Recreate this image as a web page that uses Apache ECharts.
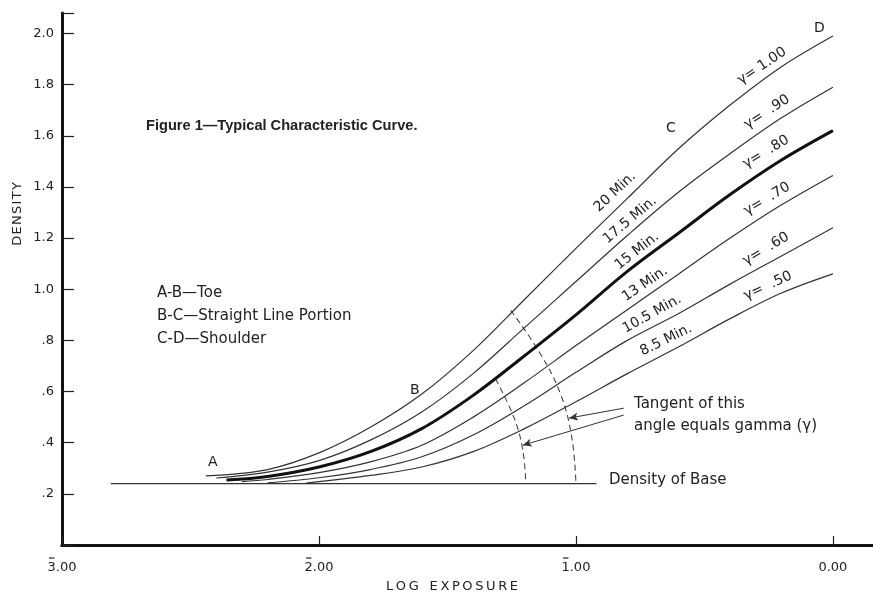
<!DOCTYPE html>
<html>
<head>
<meta charset="utf-8">
<script src="https://cdn.jsdelivr.net/npm/echarts@6/dist/echarts.min.js"></script>
<style>html,body{margin:0;padding:0;background:#fff}#c{width:873px;height:595px}</style>
</head>
<body>
<div id="c"></div>
<script>
// ---- data ----
const xTickValues = [-3, -2, -1, 0];
const xTickLabels = ['3.00', '2.00', '1.00', '0.00'];
const xTickBarred = [true, true, true, false];   // bar (negative characteristic) over first digit
const yTickValues = [0.2, 0.4, 0.6, 0.8, 1.0, 1.2, 1.4, 1.6, 1.8, 2.0];
const yTickLabels = ['.2', '.4', '.6', '.8', '1.0', '1.2', '1.4', '1.6', '1.8', '2.0'];

const curve20 = [[-2.44,0.27],[-2.2,0.295],[-2.0,0.36],[-1.8,0.46],[-1.6,0.59],[-1.4,0.76],[-1.2,0.96],[-1.0,1.16],[-0.8,1.355],[-0.6,1.55],[-0.4,1.72],[-0.2,1.87],[0,1.99]];
const curve175 = [[-2.40,0.262],[-2.2,0.285],[-2.0,0.33],[-1.8,0.41],[-1.6,0.52],[-1.4,0.67],[-1.2,0.85],[-1.0,1.03],[-0.8,1.21],[-0.6,1.38],[-0.4,1.53],[-0.2,1.67],[0,1.79]];
const curve15 = [[-2.36,0.254],[-2.2,0.268],[-2.0,0.305],[-1.8,0.365],[-1.6,0.455],[-1.4,0.585],[-1.2,0.74],[-1.0,0.90],[-0.8,1.07],[-0.6,1.22],[-0.4,1.37],[-0.2,1.505],[0,1.62]];
const curve13 = [[-2.30,0.248],[-2.2,0.256],[-2.0,0.283],[-1.8,0.325],[-1.6,0.39],[-1.4,0.50],[-1.2,0.635],[-1.0,0.78],[-0.8,0.92],[-0.6,1.06],[-0.4,1.20],[-0.2,1.33],[0,1.445]];
const curve105 = [[-2.20,0.243],[-2.0,0.263],[-1.8,0.295],[-1.6,0.345],[-1.4,0.43],[-1.2,0.545],[-1.0,0.675],[-0.8,0.80],[-0.6,0.905],[-0.4,1.02],[-0.2,1.13],[0,1.24]];
const curve85 = [[-2.05,0.242],[-1.8,0.272],[-1.6,0.305],[-1.4,0.365],[-1.2,0.455],[-1.0,0.56],[-0.8,0.67],[-0.6,0.775],[-0.4,0.885],[-0.2,0.985],[0,1.06]];

const baseLine = [[-2.81,0.24],[-0.92,0.24]];
const arcOuter = [[-1.254,0.918],[-1.14,0.75],[-1.06,0.59],[-1.016,0.42],[-1.0,0.24]];
const arcInner = [[-1.313,0.65],[-1.241,0.498],[-1.207,0.372],[-1.195,0.24]];
const arrow1 = [[-0.814,0.535],[-1.027,0.496]];
const arrow2 = [[-0.814,0.508],[-1.207,0.39]];

const chart = echarts.init(document.getElementById('c'), null, {renderer:'canvas'});
const FONT = 'DejaVu Sans';
const TXT = '#222';

function curve(data, w, color) {
  return {type:'line', data:data, smooth:0.35, symbol:'none', silent:true,
    lineStyle:{color:color, width:w}, z:3};
}

const texts = [
  {t:'Figure 1\u2014Typical Characteristic Curve.', x:146, y:126, s:14.6, w:'bold', f:'Liberation Sans'},
  {t:'A-B\u2014Toe', x:157, y:293, s:15},
  {t:'B-C\u2014Straight Line Portion', x:157, y:316, s:15},
  {t:'C-D\u2014Shoulder', x:157, y:339, s:15},
  {t:'Tangent of this', x:634, y:404, s:15},
  {t:'angle equals gamma (\u03b3)', x:634, y:426, s:15},
  {t:'Density of Base', x:609, y:480, s:15},
  {t:'A', x:208, y:462, s:14},
  {t:'B', x:410, y:390, s:14},
  {t:'C', x:666, y:128, s:14},
  {t:'D', x:814, y:28, s:14}
];
const rot = [
  {t:'20 Min.', x:615, y:192, a:43},
  {t:'17.5 Min.', x:630, y:220, a:40},
  {t:'15 Min.', x:637, y:251, a:38},
  {t:'13 Min.', x:645, y:284, a:34},
  {t:'10.5 Min.', x:652, y:314, a:29},
  {t:'8.5 Min.', x:666, y:340, a:26},
  {t:'\u03b3= 1.00', x:762, y:66, a:34},
  {t:'\u03b3=  .90', x:767, y:112, a:33},
  {t:'\u03b3=  .80', x:766, y:152, a:31},
  {t:'\u03b3=  .70', x:767, y:199, a:31},
  {t:'\u03b3=  .60', x:766, y:249, a:31},
  {t:'\u03b3=  .50', x:768, y:286, a:25}
];

const graphic = [];
texts.forEach(o => graphic.push({type:'text', x:o.x, y:o.y, style:{text:o.t, fill:TXT,
  font:(o.w||'normal')+' '+o.s+'px "'+(o.f||FONT)+'"', textAlign:'left', textVerticalAlign:'middle'}}));
rot.forEach(o => graphic.push({type:'text', x:o.x, y:o.y, rotation:o.a*Math.PI/180,
  style:{text:o.t, fill:TXT, font:'14px "'+FONT+'"', textAlign:'center', textVerticalAlign:'middle'}}));
graphic.push({type:'text', x:18, y:214, rotation:Math.PI/2,
  style:{text:'D E N S I T Y'.replace(/ /g,'\u200a'), fill:TXT, font:'13px "'+FONT+'"', textAlign:'center', textVerticalAlign:'middle'}});
graphic.push({type:'text', x:452, y:587,
  style:{text:'L O G   E X P O S U R E'.replace(/ (?! )/g,'\u2009'), fill:TXT, font:'13px "'+FONT+'"', textAlign:'center', textVerticalAlign:'middle'}});

const option = {
  animation:false,
  backgroundColor:'#fff',
  grid:{left:62, right:0, top:13, bottom:50},
  xAxis:[{
    type:'value', min:-3, max:0.156, interval:1,
    axisLine:{show:true, onZero:false, lineStyle:{color:'#111', width:3}},
    axisTick:{show:true, inside:true, length:9, lineStyle:{color:'#222', width:1.2}},
    splitLine:{show:false},
    axisLabel:{color:TXT, fontFamily:FONT, fontSize:13, margin:16, showMaxLabel:false,
      formatter:v => { const i = xTickValues.indexOf(Math.round(v*1000)/1000); return i>=0 ? xTickLabels[i] : ''; }}
  },{
    type:'value', position:'top', min:-3, max:0.156,
    axisLine:{show:true, lineStyle:{color:'#111', width:3}},
    axisTick:{show:false}, axisLabel:{show:false}, splitLine:{show:false}
  }],
  yAxis:{
    type:'value', min:0, max:2.08, interval:0.2,
    axisLine:{show:true, onZero:false, lineStyle:{color:'#111', width:3}},
    axisTick:{show:true, inside:true, length:12, lineStyle:{color:'#222', width:1.2}},
    splitLine:{show:false},
    axisLabel:{color:TXT, fontFamily:FONT, fontSize:13, margin:8,
      formatter:v => { const i = yTickValues.findIndex(t => Math.abs(t-v)<1e-6); return i>=0 ? yTickLabels[i] : ''; }}
  },
  series:[
    curve(curve20, 1.2, '#333'),
    curve(curve175, 1.2, '#333'),
    curve(curve15, 3, '#111'),
    curve(curve13, 1.2, '#333'),
    curve(curve105, 1.2, '#333'),
    curve(curve85, 1.2, '#333'),
    {type:'line', data:baseLine, symbol:'none', silent:true, lineStyle:{color:'#333', width:1.3}, z:2},
    {type:'line', data:arcOuter, smooth:0.4, symbol:'none', silent:true, lineStyle:{color:'#444', width:1.1, type:[6,4]}, z:2},
    {type:'line', data:arcInner, smooth:0.4, symbol:'none', silent:true, lineStyle:{color:'#444', width:1.1, type:[6,4]}, z:2},
    {type:'line', data:[], silent:true,
      markLine:{silent:true, symbol:['none','arrow'], symbolSize:[6,9], label:{show:false},
        lineStyle:{color:'#333', width:1, type:'solid'},
        data:[[{coord:arrow1[0]},{coord:arrow1[1]}],[{coord:arrow2[0]},{coord:arrow2[1]}]]}}
  ],
  graphic:graphic
};
chart.setOption(option);

// bars over the first digit of the negative-characteristic tick labels
const y0 = chart.convertToPixel({yAxisIndex:0}, 0);
const bars = [];
xTickValues.forEach((v, i) => {
  if (!xTickBarred[i]) return;
  const cx = chart.convertToPixel({xAxisIndex:0}, v);
  bars.push({type:'line', shape:{x1:cx-13, y1:y0+13, x2:cx-7.5, y2:y0+13}, style:{stroke:TXT, lineWidth:1.2}});
});
chart.setOption({graphic: graphic.concat(bars)});
</script>
</body>
</html>
